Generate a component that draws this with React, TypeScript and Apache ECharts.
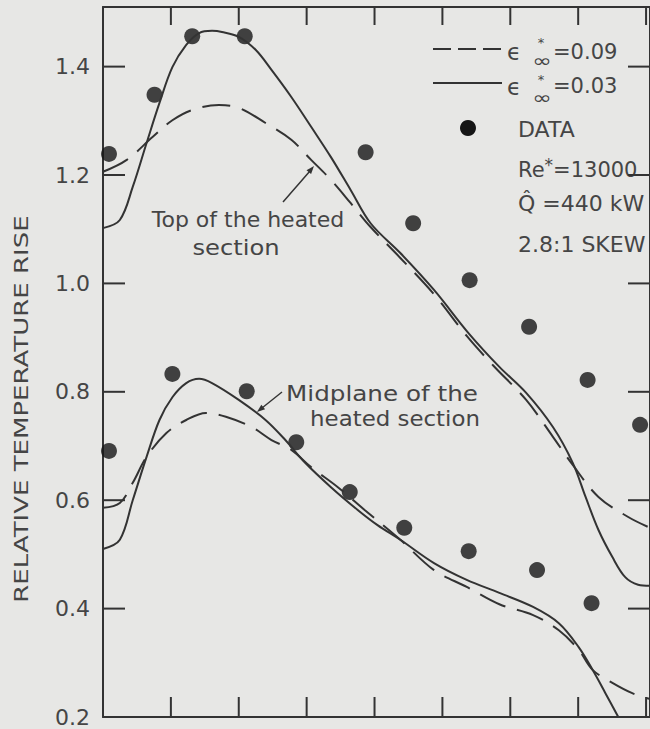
import React, { useEffect, useRef } from 'react';
import * as echarts from 'echarts';

// ---- data (x: position along the section, arbitrary units; y: relative temperature rise)
const yTickValues = [0.2, 0.4, 0.6, 0.8, 1.0, 1.2, 1.4];
const xTickValues = [1, 2, 3, 4, 5, 6, 7, 8];

const topSolidX = [0, 0.248, 0.438, 0.642, 0.832, 1.022, 1.226, 1.416, 1.606, 1.752, 2.0, 2.248, 2.482, 2.774, 3.066, 3.358, 3.65, 3.942, 4.38, 4.876, 5.387, 5.839, 6.234, 6.628, 6.92, 7.109, 7.299, 7.504, 7.693, 7.883, 8.058];
const topSolidY = [1.102, 1.117, 1.178, 1.259, 1.333, 1.399, 1.44, 1.462, 1.466, 1.464, 1.455, 1.431, 1.394, 1.344, 1.289, 1.233, 1.172, 1.111, 1.056, 0.988, 0.908, 0.846, 0.798, 0.735, 0.669, 0.606, 0.545, 0.495, 0.458, 0.444, 0.442];

const topDashedX = [0, 0.35, 0.73, 1.022, 1.314, 1.708, 2.0, 2.394, 2.774, 3.066, 3.358, 3.65, 3.942, 4.38, 4.876, 5.358, 5.752, 6.234, 6.628, 6.92, 7.299, 7.737, 8.058];
const topDashedY = [1.206, 1.228, 1.27, 1.301, 1.32, 1.329, 1.324, 1.296, 1.265, 1.228, 1.191, 1.148, 1.104, 1.047, 0.98, 0.903, 0.848, 0.785, 0.717, 0.665, 0.606, 0.569, 0.549];

const midSolidX = [0, 0.248, 0.438, 0.642, 0.832, 1.022, 1.226, 1.416, 1.606, 2.0, 2.394, 2.686, 2.978, 3.358, 3.752, 4.044, 4.38, 4.876, 5.358, 5.839, 6.336, 6.715, 7.007, 7.212, 7.401, 7.591];
const midSolidY = [0.51, 0.527, 0.6, 0.68, 0.748, 0.79, 0.816, 0.824, 0.816, 0.785, 0.748, 0.711, 0.669, 0.624, 0.582, 0.554, 0.527, 0.484, 0.453, 0.429, 0.403, 0.373, 0.329, 0.287, 0.244, 0.2];

const midDashedX = [0, 0.248, 0.438, 0.642, 0.934, 1.226, 1.518, 1.81, 2.19, 2.482, 2.774, 3.066, 3.46, 3.854, 4.38, 4.876, 5.358, 5.839, 6.336, 6.715, 7.007, 7.212, 7.504, 7.796, 8.058];
const midDashedY = [0.586, 0.595, 0.632, 0.68, 0.724, 0.748, 0.761, 0.754, 0.735, 0.711, 0.693, 0.661, 0.624, 0.582, 0.527, 0.471, 0.44, 0.408, 0.388, 0.36, 0.324, 0.287, 0.263, 0.244, 0.233];

const topDataX = [0.088, 0.759, 1.314, 2.088, 3.869, 4.569, 5.401, 6.277, 7.139, 7.912];
const topDataY = [1.239, 1.348, 1.456, 1.456, 1.242, 1.111, 1.006, 0.92, 0.822, 0.739];

const midDataX = [0.088, 1.022, 2.117, 2.847, 3.635, 4.438, 5.387, 6.394, 7.197];
const midDataY = [0.691, 0.833, 0.801, 0.707, 0.615, 0.549, 0.506, 0.471, 0.41];

const legendValues = ['=0.09', '=0.03'];
const legendNotes = ['DATA', 'Q\u0302 =440 kW', '2.8:1 SKEW'];
const yAxisTitle = 'RELATIVE TEMPERATURE RISE';

const X_MIN = 0;
const X_MAX = 8.058;
const Y_MIN = 0.2;
const Y_MAX = 1.51;

const zip = (xs: number[], ys: number[]) => xs.map((x, i) => [x, ys[i]]);

const INK = '#333333';
const TEXT = '#454545';
const FONT = '"DejaVu Sans", sans-serif';

function txt(text: string, x: number, y: number, size: number, align: string, extra: any = {}, styleExtra: any = {}) {
  return {
    type: 'text',
    x,
    y,
    silent: true,
    ...extra,
    style: {
      text,
      x: 0,
      y: 0,
      fill: TEXT,
      font: `${size}px ${FONT}`,
      fontSize: size,
      fontFamily: FONT,
      textAlign: align,
      align,
      textVerticalAlign: 'middle',
      verticalAlign: 'middle',
      ...styleExtra,
    },
  };
}

// tick marks drawn through the axis scales (inside ticks on all four sides)
function tickSeries(data: number[][], dx: number, dy: number) {
  return {
    type: 'custom',
    silent: true,
    clip: false,
    data,
    encode: { x: 0, y: 1 },
    renderItem: (_p: any, api: any) => {
      const pt = api.coord([api.value(0), api.value(1)]);
      return {
        type: 'line',
        shape: { x1: pt[0], y1: pt[1], x2: pt[0] + dx, y2: pt[1] + dy },
        style: { stroke: INK, lineWidth: 2 },
      };
    },
  };
}

export default function App() {
  const ref = useRef<HTMLDivElement>(null);

  useEffect(() => {
    if (!ref.current) return;
    const chart = echarts.init(ref.current, undefined, { renderer: 'svg' });
    const axisLine = { show: true, onZero: false, lineStyle: { color: INK, width: 2 } };
    const noTick = { show: false };
    const option: any = {
      animation: false,
      backgroundColor: '#e7e7e5',
      grid: { left: 103, top: 7, width: 552, height: 710, containLabel: false },
      xAxis: [
        {
          type: 'value', min: X_MIN, max: X_MAX, interval: 1, position: 'bottom',
          axisLine, axisTick: noTick, axisLabel: { show: false }, splitLine: { show: false },
        },
        {
          type: 'value', min: X_MIN, max: X_MAX, interval: 1, position: 'top',
          axisLine, axisTick: noTick, axisLabel: { show: false }, splitLine: { show: false },
        },
      ],
      yAxis: [
        {
          type: 'value', min: Y_MIN, max: Y_MAX, interval: 0.2, position: 'left',
          axisLine, axisTick: noTick,
          axisLabel: {
            show: true, margin: 13, fontSize: 22, fontFamily: FONT, color: TEXT, showMaxLabel: false,
            formatter: (v: number) => {
              const t = yTickValues.find((k) => Math.abs(k - v) < 1e-6);
              return t === undefined ? '' : t.toFixed(1);
            },
          },
          splitLine: { show: false },
        },
        {
          type: 'value', min: Y_MIN, max: Y_MAX, interval: 0.2, position: 'right',
          axisLine, axisTick: noTick, axisLabel: { show: false }, splitLine: { show: false },
        },
      ],
      series: [
        { type: 'line', data: zip(topSolidX, topSolidY), smooth: 0.35, showSymbol: false, lineStyle: { color: INK, width: 2 } },
        { type: 'line', data: zip(topDashedX, topDashedY), smooth: 0.35, showSymbol: false, lineStyle: { color: INK, width: 2, type: [28, 12] } },
        { type: 'line', data: zip(midSolidX, midSolidY), smooth: 0.35, showSymbol: false, lineStyle: { color: INK, width: 2 } },
        { type: 'line', data: zip(midDashedX, midDashedY), smooth: 0.35, showSymbol: false, lineStyle: { color: INK, width: 2, type: [28, 12] } },
        { type: 'scatter', data: zip(topDataX, topDataY), symbolSize: 16, itemStyle: { color: '#161616' } },
        { type: 'scatter', data: zip(midDataX, midDataY), symbolSize: 16, itemStyle: { color: '#161616' } },
        tickSeries(yTickValues.map((v) => [X_MIN, v]), 22, 0),
        tickSeries(yTickValues.map((v) => [X_MAX, v]), -22, 0),
        tickSeries(xTickValues.map((v) => [v, Y_MIN]), 0, -20),
        tickSeries(xTickValues.map((v) => [v, Y_MAX]), 0, 18),
      ],
      graphic: [
        // y-axis title
        txt(yAxisTitle, 21, 409, 19, 'center', { rotation: Math.PI / 2, scaleX: 1.37 }),
        // legend row 1 (dashed)
        { type: 'line', silent: true, shape: { x1: 433, y1: 49, x2: 502, y2: 49 }, style: { stroke: INK, lineWidth: 2, lineDash: [18, 7] } },
        txt('\u03F5', 514, 52, 23, 'center'),
        txt('*', 541, 42, 13, 'center'),
        txt('\u221E', 542, 60.5, 18, 'center', { scaleX: 1.3 }),
        txt(legendValues[0], 553, 52, 21, 'left'),
        // legend row 2 (solid)
        { type: 'line', silent: true, shape: { x1: 433, y1: 83, x2: 502, y2: 83 }, style: { stroke: INK, lineWidth: 2 } },
        txt('\u03F5', 514, 87, 23, 'center'),
        txt('*', 541, 79, 13, 'center'),
        txt('\u221E', 542, 97.5, 18, 'center', { scaleX: 1.3 }),
        txt(legendValues[1], 553, 86, 21, 'left'),
        // legend row 3 and notes
        { type: 'circle', silent: true, shape: { cx: 468, cy: 128, r: 8 }, style: { fill: '#161616' } },
        txt(legendNotes[0], 518, 129, 22, 'left'),
        {
          type: 'text', x: 518, y: 168, silent: true,
          style: {
            text: '{a|Re}{s|*}{a|=13000}',
            x: 0, y: 0, fill: TEXT,
            textAlign: 'left', align: 'left', textVerticalAlign: 'middle', verticalAlign: 'middle',
            font: `21px ${FONT}`, fontSize: 21, fontFamily: FONT,
            rich: {
              a: { fontSize: 21, fontFamily: FONT, fill: TEXT, color: TEXT, lineHeight: 24, verticalAlign: 'bottom' },
              s: { fontSize: 17, fontFamily: FONT, fill: TEXT, color: TEXT, lineHeight: 18, verticalAlign: 'top', padding: [0, 0, 12, 0] },
            },
          },
        },
        txt(legendNotes[1], 518, 203, 22, 'left'),
        txt(legendNotes[2], 518, 244, 22, 'left'),
        // annotation: top of the heated section
        txt('Top of the heated', 248, 219, 22, 'center'),
        txt('section', 236, 247, 22, 'center', { scaleX: 1.1 }),
        { type: 'line', silent: true, shape: { x1: 283, y1: 202, x2: 310, y2: 171 }, style: { stroke: INK, lineWidth: 1.5 } },
        { type: 'polygon', silent: true, shape: { points: [[314, 166], [311.1, 174], [306.5, 170.2]] }, style: { fill: INK } },
        // annotation: midplane
        txt('Midplane of the', 382, 393, 22, 'center', { scaleX: 1.12 }),
        txt('heated section', 395, 418, 22, 'center', { scaleX: 1.04 }),
        { type: 'line', silent: true, shape: { x1: 282, y1: 392, x2: 262, y2: 408 }, style: { stroke: INK, lineWidth: 1.5 } },
        { type: 'polygon', silent: true, shape: { points: [[257, 412], [265.1, 409.3], [261.3, 404.7]] }, style: { fill: INK } },
      ],
    };
    chart.setOption(option);
    return () => chart.dispose();
  }, []);

  return (
    <div
      ref={ref}
      style={{ position: 'fixed', left: 0, top: 0, width: 650, height: 729 }}
    />
  );
}
